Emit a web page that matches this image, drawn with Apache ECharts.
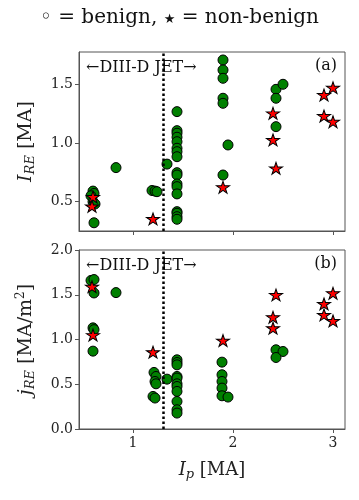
<!DOCTYPE html>
<html>
<head>
<meta charset="utf-8">
<script src="https://cdn.jsdelivr.net/npm/echarts@6/dist/echarts.min.js"></script>
<style>
  html, body { margin: 0; padding: 0; background: #fff; }
  #chart { width: 359px; height: 500px; }
</style>
</head>
<body>
<div id="chart"></div>
<script>
// panel (a): I_RE vs I_p
var benignA = [[0.60, 0.59], [0.61, 0.57], [0.58, 0.55], [0.60, 0.50], [0.62, 0.48], [0.61, 0.32],
  [0.83, 0.79], [1.19, 0.595], [1.22, 0.59], [1.24, 0.585], [1.34, 0.82],
  [1.44, 1.267], [1.44, 1.105], [1.44, 1.083], [1.44, 1.049], [1.44, 1.011], [1.44, 0.955], [1.44, 0.926],
  [1.44, 0.883], [1.44, 0.747], [1.44, 0.727], [1.44, 0.651], [1.44, 0.628], [1.44, 0.566], [1.44, 0.415],
  [1.44, 0.401], [1.44, 0.372], [1.44, 0.35],
  [1.90, 1.707], [1.90, 1.622], [1.90, 1.551], [1.90, 1.381], [1.90, 1.338], [1.90, 0.727],
  [1.95, 0.983], [2.43, 1.457], [2.43, 1.381], [2.43, 1.139], [2.50, 1.50]]
var nonBenignA = [[0.60, 0.54], [0.59, 0.46], [1.20, 0.353], [1.90, 0.623], [2.40, 1.253], [2.40, 1.026],
  [2.43, 0.784], [2.91, 1.409], [3.00, 1.471], [2.91, 1.23], [3.00, 1.181]]

// panel (b): j_RE vs I_p
var benignB = [[0.58, 1.66], [0.61, 1.67], [0.61, 1.52], [0.60, 1.13], [0.61, 1.11], [0.60, 0.87], [0.83, 1.524],
  [1.21, 0.632], [1.23, 0.587], [1.22, 0.531], [1.23, 0.505], [1.20, 0.364], [1.22, 0.346], [1.34, 0.557],
  [1.44, 0.773], [1.44, 0.743], [1.44, 0.717], [1.44, 0.587], [1.44, 0.569], [1.44, 0.505], [1.44, 0.475],
  [1.44, 0.420], [1.44, 0.308], [1.44, 0.215], [1.44, 0.178],
  [1.89, 0.747], [1.89, 0.606], [1.89, 0.531], [1.89, 0.457], [1.89, 0.371], [1.95, 0.357],
  [2.43, 0.885], [2.50, 0.866], [2.43, 0.799]]
var nonBenignB = [[0.59, 1.59], [0.60, 1.05], [1.20, 0.859], [1.90, 0.988], [2.43, 1.498], [2.40, 1.249],
  [2.40, 1.127], [3.00, 1.517], [2.91, 1.398], [2.91, 1.275], [3.00, 1.208]]

var xTicks = [1, 2, 3]
var yTicksA = [0.5, 1.0, 1.5]
var dividerX = 1.3

var FONT = 'DejaVu Serif'
var star = 'path://M0,-1L0.2245,-0.309L0.951,-0.309L0.363,0.118L0.588,0.809L0,0.382L-0.588,0.809L-0.363,0.118L-0.951,-0.309L-0.2245,-0.309Z'

function xAxisCfg (idx, showLabels) {
  return {
    type: 'value', gridIndex: idx, min: 0.46, max: 3.12,
    splitLine: { show: false },
    axisLine: { lineStyle: { color: '#555' } },
    axisTick: { customValues: xTicks, length: 4, lineStyle: { color: '#555' } },
    axisLabel: { show: showLabels, customValues: xTicks, color: '#222', fontFamily: FONT, fontSize: 14, margin: 7 },
    name: showLabels ? '{i|I}{s|p} [MA]' : '',
    nameLocation: 'middle', nameGap: 31,
    nameTextStyle: {
      fontFamily: FONT, fontSize: 18, color: '#222',
      rich: {
        i: { fontFamily: FONT, fontStyle: 'italic', fontSize: 18, color: '#222' },
        s: { fontFamily: FONT, fontStyle: 'italic', fontSize: 13, color: '#222', verticalAlign: 'bottom', padding: [8, 0, 0, 0] }
      }
    }
  }
}

function yAxisCfg (idx, min, max, ticks, name) {
  return {
    type: 'value', gridIndex: idx, min: min, max: max,
    interval: ticks ? undefined : 0.5,
    splitLine: { show: false },
    axisLine: { show: true, lineStyle: { color: '#555' } },
    axisTick: { show: true, customValues: ticks, length: 4, lineStyle: { color: '#555' } },
    axisLabel: { customValues: ticks, color: '#222', fontFamily: FONT, fontSize: 14, margin: 6,
      formatter: function (v) { return v.toFixed(1) } },
    name: name, nameLocation: 'middle', nameGap: 42, nameRotate: 90,
    nameTextStyle: {
      fontFamily: FONT, fontSize: 19, color: '#222',
      rich: {
        i: { fontFamily: FONT, fontStyle: 'italic', fontSize: 19, color: '#222' },
        s: { fontFamily: FONT, fontStyle: 'italic', fontSize: 13, color: '#222', verticalAlign: 'bottom', padding: [9, 0, 0, 0] },
        n: { fontFamily: FONT, fontSize: 19, color: '#222' },
        sup: { fontFamily: FONT, fontSize: 12, color: '#222', verticalAlign: 'top', padding: [0, 0, 9, 0] }
      }
    }
  }
}

function circles (data, xi, yi) {
  return {
    type: 'scatter', xAxisIndex: xi, yAxisIndex: yi, data: data,
    symbol: 'circle', symbolSize: 10, z: 3,
    itemStyle: { color: '#008000', borderColor: '#000', borderWidth: 1, opacity: 1 },
    markLine: {
      silent: true, symbol: 'none', label: { show: false },
      lineStyle: { color: '#000', type: [2.5, 2.5], width: 2.5 },
      data: [{ xAxis: dividerX }]
    }
  }
}

function stars (data, xi, yi) {
  return {
    type: 'scatter', xAxisIndex: xi, yAxisIndex: yi, data: data,
    symbol: star, symbolSize: [13, 12.4], symbolKeepAspect: true, z: 4,
    itemStyle: { color: '#ff0000', borderColor: '#000', borderWidth: 1, opacity: 1 }
  }
}

var myChart = echarts.init(document.getElementById('chart'))
myChart.setOption({
  animation: false,
  title: {
    text: '{t|\u25E6 = benign, }{st|\u2605}{t| = non-benign}',
    left: 'center', top: 3,
    textStyle: {
      fontFamily: FONT, fontSize: 20, fontWeight: 'normal', color: '#111',
      rich: {
        t: { fontFamily: FONT, fontSize: 20, color: '#111' },
        st: { fontFamily: 'DejaVu Sans', fontSize: 13, color: '#111', padding: [3, 0, 0, 0] }
      }
    }
  },
  grid: [
    { left: 79, right: 14, top: 52, height: 179, show: true, borderColor: '#555', borderWidth: 1, backgroundColor: 'transparent' },
    { left: 79, right: 14, top: 250, height: 179, show: true, borderColor: '#555', borderWidth: 1, backgroundColor: 'transparent' }
  ],
  xAxis: [xAxisCfg(0, false), xAxisCfg(1, true)],
  yAxis: [
    yAxisCfg(0, 0.25, 1.775, yTicksA, '{i|I}{s|RE} {n|[MA]}'),
    yAxisCfg(1, 0, 2, undefined, '{i|j}{s|RE} {n|[MA/m}{sup|2}{n|]}')
  ],
  graphic: [
    { type: 'text', left: 86, top: 60, style: { text: '\u2190DIII-D JET\u2192', fontFamily: FONT, fontSize: 16, fill: '#111' } },
    { type: 'text', right: 22, top: 58, style: { text: '(a)', fontFamily: FONT, fontSize: 16, fill: '#111' } },
    { type: 'text', left: 86, top: 258, style: { text: '\u2190DIII-D JET\u2192', fontFamily: FONT, fontSize: 16, fill: '#111' } },
    { type: 'text', right: 22, top: 256, style: { text: '(b)', fontFamily: FONT, fontSize: 16, fill: '#111' } }
  ],
  series: [
    circles(benignA, 0, 0), stars(nonBenignA, 0, 0),
    circles(benignB, 1, 1), stars(nonBenignB, 1, 1)
  ]
})
</script>
</body>
</html>
